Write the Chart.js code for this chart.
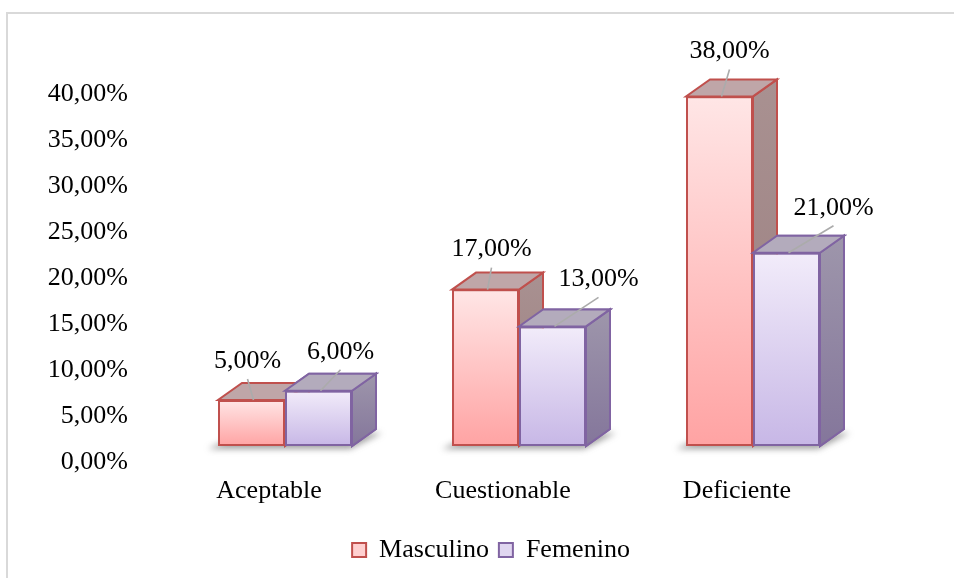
<!DOCTYPE html>
<html><head><meta charset="utf-8">
<script src="https://cdn.jsdelivr.net/npm/chart.js@4/dist/chart.umd.min.js"></script>
<style>html,body{margin:0;padding:0;background:#fff}#wrap{width:954px;height:578px;position:relative}</style>
</head><body><div id="wrap"><canvas id="c"></canvas></div>
<script>
// ---- data ----
const categories = ['Aceptable', 'Cuestionable', 'Deficiente'];
const seriesNames = ['Masculino', 'Femenino'];
const masculino = [5, 17, 38];
const femenino = [6, 13, 21];
const yTickValues = [0, 5, 10, 15, 20, 25, 30, 35, 40];

// ---- style ----
const FONT_FAMILY = "'Liberation Serif', 'Times New Roman', serif";
const FONT_SIZE = 26;
const DEPTH = { dx: 24, dy: -17 };
const styles = [
  { front: ['#ffe6e6', '#ffa3a3'], top: '#bfa6a8', side: ['#a99191', '#9a7e7f'], border: '#c0504d',
    legendFill: '#ffd0d0', labelOffsets: [[-4, -39], [6, -40], [10, -45]] },
  { front: ['#f2ecfa', '#c7b7e6'], top: '#b3abbc', side: ['#9e96ab', '#84769b'], border: '#8064a2',
    legendFill: '#e0d6f0', labelOffsets: [[22, -39], [46, -47], [47, -45]] }
];
const fmt = v => v.toFixed(2).replace('.', ',') + '%';

function frontFill(c) {
  const st = styles[c.datasetIndex];
  const chart = c.chart;
  if (!chart.chartArea || c.type !== 'data' || !chart.scales.y) return st.front[1];
  const ys = chart.scales.y;
  const top = ys.getPixelForValue(c.raw), base = ys.getPixelForValue(0);
  if (!isFinite(top) || !isFinite(base) || top === base) return st.front[1];
  const g = chart.ctx.createLinearGradient(0, top, 0, base);
  g.addColorStop(0, st.front[0]);
  g.addColorStop(1, st.front[1]);
  return g;
}

const frame = {
  id: 'frame',
  beforeDraw(chart) {
    const ctx = chart.ctx;
    ctx.save();
    ctx.fillStyle = '#fff';
    ctx.fillRect(0, 0, chart.width, chart.height);
    ctx.strokeStyle = '#d9d9d9';
    ctx.lineWidth = 2;
    ctx.strokeRect(7, 13, 2000, 2000);
    ctx.restore();
  }
};

function drawFaces(ctx, meta, st) {
  const { dx, dy } = DEPTH;
  ctx.save();
  ctx.lineWidth = 2;
  ctx.lineJoin = 'miter';
  ctx.strokeStyle = st.border;
  meta.data.forEach(b => {
    const l = b.x - b.width / 2, r = b.x + b.width / 2, t = b.y, base = b.base;
    const gs = ctx.createLinearGradient(0, t + dy, 0, base);
    gs.addColorStop(0, st.side[0]);
    gs.addColorStop(1, st.side[1]);
    ctx.fillStyle = gs;
    ctx.beginPath();
    ctx.moveTo(r, t); ctx.lineTo(r + dx, t + dy); ctx.lineTo(r + dx, base + dy); ctx.lineTo(r, base);
    ctx.closePath(); ctx.fill(); ctx.stroke();
    ctx.fillStyle = st.top;
    ctx.beginPath();
    ctx.moveTo(l, t); ctx.lineTo(r, t); ctx.lineTo(r + dx, t + dy); ctx.lineTo(l + dx, t + dy);
    ctx.closePath(); ctx.fill(); ctx.stroke();
  });
  ctx.restore();
}

const threeD = {
  id: 'threeD',
  beforeDatasetsDraw(chart) {
    const ctx = chart.ctx;
    const m0 = chart.getDatasetMeta(0), m1 = chart.getDatasetMeta(1);
    ctx.save();
    ctx.filter = 'blur(3px)';
    ctx.fillStyle = 'rgba(70,70,70,0.5)';
    m0.data.forEach((b0, i) => {
      const b1 = m1.data[i];
      const x0 = b0.x - b0.width / 2, x1 = b1.x + b1.width / 2, base = b0.base;
      ctx.beginPath();
      ctx.moveTo(x0 - 10, base + 3);
      ctx.lineTo(x1 - 2, base + 3);
      ctx.lineTo(x1 + DEPTH.dx + 6, base + DEPTH.dy + 4);
      ctx.lineTo(x0 + DEPTH.dx, base + DEPTH.dy + 4);
      ctx.closePath();
      ctx.fill();
    });
    ctx.restore();
  },
  beforeDatasetDraw(chart, args) {
    drawFaces(chart.ctx, args.meta, styles[args.index]);
  },
  afterDatasetDraw(chart, args) {
    // Chart.js paints dataset 1 first; repaint it so it sits in front of dataset 0's side faces
    if (args.index !== 0) return;
    const meta1 = chart.getDatasetMeta(1);
    drawFaces(chart.ctx, meta1, styles[1]);
    meta1.data.forEach(b => b.draw(chart.ctx, chart.chartArea));
  },
  afterDatasetsDraw(chart) {
    const ctx = chart.ctx;
    ctx.save();
    chart.data.datasets.forEach((ds, di) => {
      const st = styles[di];
      chart.getDatasetMeta(di).data.forEach((b, i) => {
        const [ox, oy] = st.labelOffsets[i];
        const lx = b.x + ox, ly = b.y + oy;
        ctx.strokeStyle = '#ababab';
        ctx.lineWidth = 1.6;
        ctx.beginPath();
        ctx.moveTo(lx, ly + 18);
        ctx.lineTo(b.x + 2, b.y);
        ctx.stroke();
        ctx.fillStyle = '#000';
        ctx.font = FONT_SIZE + 'px ' + FONT_FAMILY;
        ctx.textAlign = 'center';
        ctx.textBaseline = 'middle';
        ctx.fillText(fmt(ds.data[i]), lx, ly);
      });
    });
    ctx.restore();
  }
};

function makeDataset(i, values) {
  return {
    label: seriesNames[i],
    data: values,
    backgroundColor: frontFill,
    borderColor: styles[i].border,
    borderWidth: 2,
    borderSkipped: false,
    categoryPercentage: 0.5726,
    barPercentage: 1,
    clip: false
  };
}

new Chart(document.getElementById('c'), {
  type: 'bar',
  data: {
    labels: categories,
    datasets: [makeDataset(0, masculino), makeDataset(1, femenino)]
  },
  options: {
    responsive: true,
    maintainAspectRatio: false,
    animation: false,
    layout: { padding: { left: 28, right: 0, top: 78, bottom: 5 } },
    scales: {
      x: {
        grid: { display: false, drawTicks: false },
        border: { display: false },
        ticks: { color: '#000', font: { family: FONT_FAMILY, size: FONT_SIZE }, padding: 30, labelOffset: -16, maxRotation: 0 },
        afterFit(s) { s.height = 81; }
      },
      y: {
        min: 0, max: 40,
        grid: { display: false, drawTicks: false },
        border: { display: false },
        afterBuildTicks(s) { s.ticks = yTickValues.map(v => ({ value: v })); },
        ticks: { color: '#000', font: { family: FONT_FAMILY, size: FONT_SIZE }, padding: 40, labelOffset: 16,
                 callback: v => fmt(v) },
        afterFit(s) { s.width = 140; }
      },
      yRight: {
        position: 'right', display: true,
        grid: { display: false, drawTicks: false },
        border: { display: false },
        ticks: { display: false },
        afterFit(s) { s.width = 84; }
      }
    },
    plugins: {
      colors: { enabled: false },
      tooltip: { enabled: false },
      legend: {
        position: 'bottom',
        labels: {
          color: '#000',
          font: { family: FONT_FAMILY, size: FONT_SIZE },
          boxWidth: 14, boxHeight: 14, padding: 10,
          generateLabels: chart => chart.data.datasets.map((ds, i) => ({
            text: ds.label, fillStyle: styles[i].legendFill, strokeStyle: styles[i].border,
            lineWidth: 2, datasetIndex: i, hidden: false, fontColor: '#000'
          }))
        }
      }
    }
  },
  plugins: [frame, threeD]
});
</script></body></html>
